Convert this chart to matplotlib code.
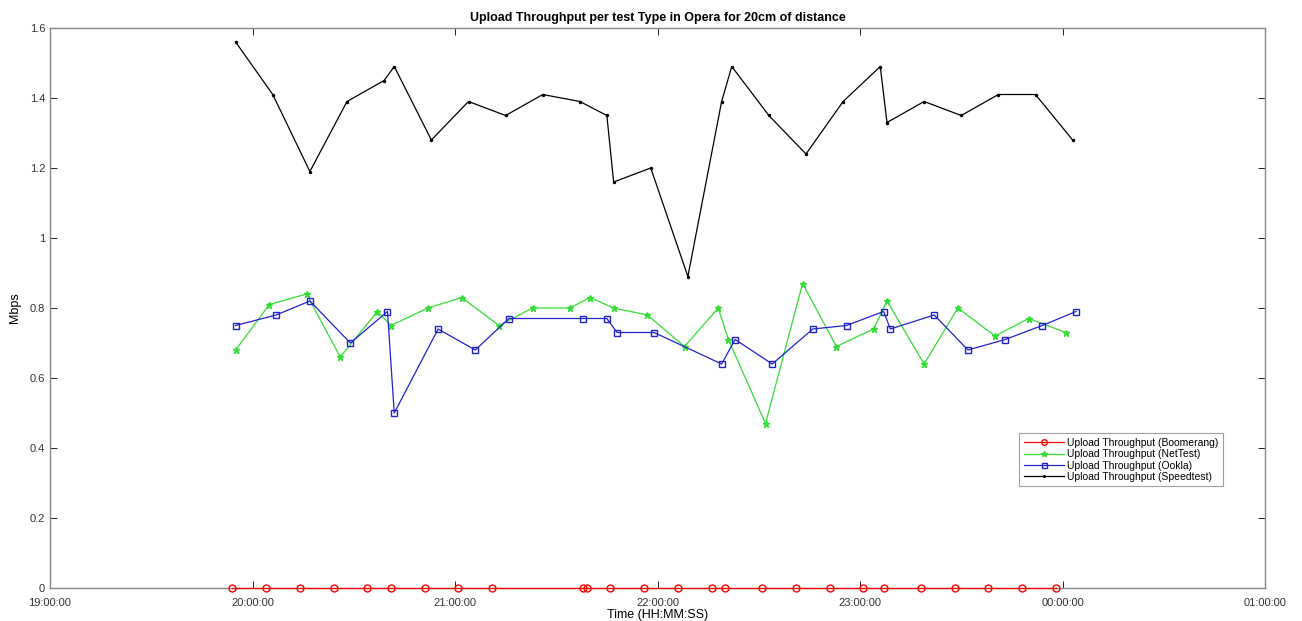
import matplotlib
matplotlib.use("Agg")
import matplotlib.pyplot as plt
import matplotlib.dates as mdates
import pandas as pd

# Sample times (HH:MM) and throughput values (Mbps)
boomerang_t = ["19:54", "20:04", "20:14", "20:24", "20:34", "20:41", "20:51", "21:01",
               "21:11", "21:38", "21:39", "21:46", "21:56", "22:06", "22:16", "22:20",
               "22:31", "22:41", "22:51", "23:01", "23:07", "23:18", "23:28", "23:38",
               "23:48", "23:58"]
boomerang_v = [0] * len(boomerang_t)

nettest_t = ["19:55", "20:05", "20:16", "20:26", "20:37", "20:41", "20:52", "21:02",
             "21:13", "21:23", "21:34", "21:40", "21:47", "21:57", "22:08", "22:18",
             "22:21", "22:32", "22:43", "22:53", "23:04", "23:08", "23:19", "23:29",
             "23:40", "23:50", "00:01"]
nettest_v = [0.68, 0.81, 0.84, 0.66, 0.79, 0.75, 0.80, 0.83, 0.75, 0.80, 0.80, 0.83,
             0.80, 0.78, 0.69, 0.80, 0.71, 0.47, 0.87, 0.69, 0.74, 0.82, 0.64, 0.80,
             0.72, 0.77, 0.73]

ookla_t = ["19:55", "20:07", "20:17", "20:29", "20:40", "20:42", "20:55", "21:06",
           "21:16", "21:38", "21:45", "21:48", "21:59", "22:19", "22:23", "22:34",
           "22:46", "22:56", "23:07", "23:09", "23:22", "23:32", "23:43", "23:54",
           "00:04"]
ookla_v = [0.75, 0.78, 0.82, 0.70, 0.79, 0.50, 0.74, 0.68, 0.77, 0.77, 0.77, 0.73,
           0.73, 0.64, 0.71, 0.64, 0.74, 0.75, 0.79, 0.74, 0.78, 0.68, 0.71, 0.75,
           0.79]

speedtest_t = ["19:55", "20:06", "20:17", "20:28", "20:39", "20:42", "20:53", "21:04",
               "21:15", "21:26", "21:37", "21:45", "21:47", "21:58", "22:09", "22:19",
               "22:22", "22:33", "22:44", "22:55", "23:06", "23:08", "23:19", "23:30",
               "23:41", "23:52", "00:03"]
speedtest_v = [1.56, 1.41, 1.19, 1.39, 1.45, 1.49, 1.28, 1.39, 1.35, 1.41, 1.39, 1.35,
               1.16, 1.20, 0.89, 1.39, 1.49, 1.35, 1.24, 1.39, 1.49, 1.33, 1.39, 1.35,
               1.41, 1.41, 1.28]

x_ticks = ["19:00", "20:00", "21:00", "22:00", "23:00", "00:00", "01:00"]
y_ticks = [0, 0.2, 0.4, 0.6, 0.8, 1, 1.2, 1.4, 1.6]


def to_dt(times):
    # times after midnight belong to the next day
    out = []
    for s in times:
        t = pd.Timestamp("2020-01-01 " + s)
        if t.hour < 12:
            t += pd.Timedelta(days=1)
        out.append(t)
    return out


plt.rcParams['font.family'] = ['Liberation Sans', 'DejaVu Sans']

fig = plt.figure(figsize=(13.02, 6.21), dpi=100)
ax = fig.add_axes([50 / 1302, 1 - 588 / 621, 1215 / 1302, 560 / 621])

ax.plot(to_dt(boomerang_t), boomerang_v, color='#ff0000', marker='o', markersize=5,
        markerfacecolor='none', linewidth=0.9, clip_on=False, zorder=5,
        label='Upload Throughput (Boomerang)')
ax.plot(to_dt(nettest_t), nettest_v, color='#33dd33', marker='*', markersize=5,
        linewidth=0.9, label='Upload Throughput (NetTest)')
ax.plot(to_dt(ookla_t), ookla_v, color='#2222cc', marker='s', markersize=4.5,
        markerfacecolor='none', linewidth=0.9, label='Upload Throughput (Ookla)')
ax.plot(to_dt(speedtest_t), speedtest_v, color='black', marker='.', markersize=3,
        linewidth=0.9, label='Upload Throughput (Speedtest)')

xt = to_dt(x_ticks)
ax.set_xlim(xt[0], xt[-1])
ax.set_xticks(xt)
ax.xaxis.set_major_formatter(mdates.DateFormatter('%H:%M:%S'))
ax.set_ylim(0, 1.6)
ax.set_yticks(y_ticks)
ax.set_yticklabels([f"{v:g}" for v in y_ticks])

ax.tick_params(direction='in', top=True, right=True, length=5, width=0.7,
               labelsize=8, colors='#222222', labelcolor='#333333')
ax.tick_params(axis='x', pad=7)
for sp in ax.spines.values():
    sp.set_color('#888888')
    sp.set_linewidth(1.0)

ax.set_xlabel('Time (HH:MM:SS)', fontsize=9, labelpad=1)
ax.set_ylabel('Mbps', fontsize=9, labelpad=6)
ax.set_title('Upload Throughput per test Type in Opera for 20cm of distance',
             fontsize=9, fontweight='bold', pad=5)

leg = ax.legend(loc='lower right', bbox_to_anchor=(0.9695, 0.172), fontsize=7.5,
                frameon=True, fancybox=False, borderpad=0.45, labelspacing=0.12,
                handlelength=3.8, handletextpad=0.3, markerscale=0.8)
leg.get_frame().set_edgecolor('#888888')
leg.get_frame().set_linewidth(0.8)

fig.savefig('out.png', dpi=100)
